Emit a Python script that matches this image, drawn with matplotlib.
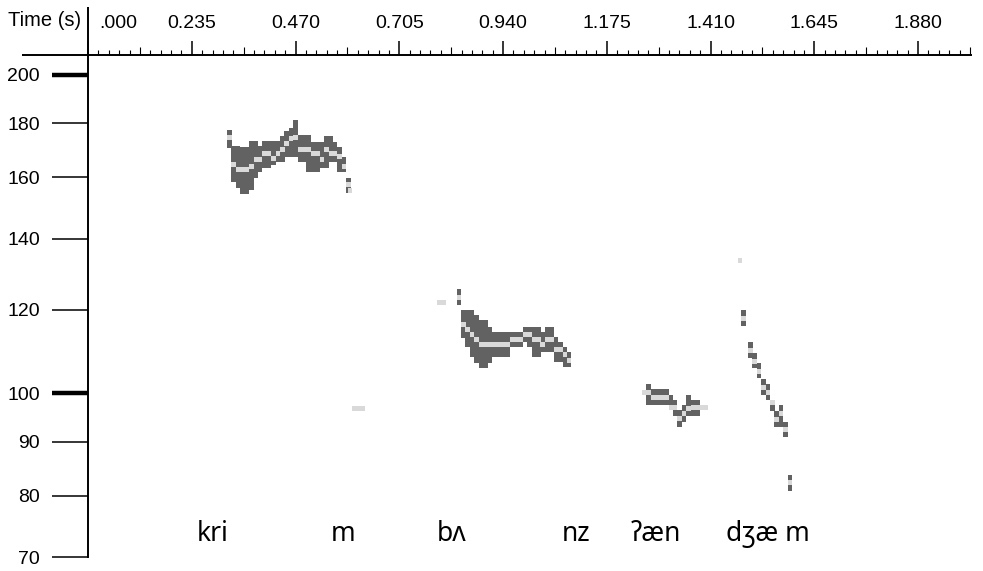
import numpy as np
import matplotlib
matplotlib.use('Agg')
import matplotlib.pyplot as plt
import matplotlib.transforms as mtransforms
from matplotlib.ticker import MultipleLocator, NullLocator, FuncFormatter

# pitch frames: time (s), f0 estimate (Hz) and the candidate band around it (Hz)
frame_t = [0.32, 0.33, 0.34, 0.35, 0.36, 0.37, 0.38, 0.39, 0.40, 0.41, 0.42, 0.43, 0.44, 0.45,
           0.46, 0.47, 0.48, 0.49, 0.50, 0.51, 0.52, 0.53, 0.54, 0.55, 0.56, 0.57, 0.58, 0.59,
           # bʌ nz
           0.84, 0.85, 0.86, 0.87, 0.88, 0.89, 0.90, 0.91, 0.92, 0.93, 0.94, 0.95, 0.96,
           0.97, 0.98, 0.99, 1.00, 1.01, 1.02, 1.03, 1.04, 1.05, 1.06, 1.07, 1.08, 1.09,
           # ʔæn
           1.27, 1.28, 1.29, 1.30, 1.31, 1.32, 1.33, 1.34, 1.35, 1.36, 1.37, 1.38,
           # dʒæ m
           1.485, 1.50, 1.51, 1.52, 1.53, 1.54, 1.55, 1.56, 1.57, 1.58, 1.59]
f0_hz = [174.4, 164.7, 162.9, 162.9, 162.9, 164.0, 166.5, 166.5, 168.4, 168.4, 166.9, 168.4, 170.2, 172.1,
         174.0, 174.7, 170.2, 170.2, 170.2, 168.4, 168.4, 166.5, 170.2, 168.4, 168.4, 167.6, 164.0, 157.4,
         123.3, 116.2, 115.0, 113.7, 112.5, 111.3, 111.3, 111.3, 111.3, 111.3, 111.3, 111.3, 112.5,
         112.5, 112.5, 113.7, 113.7, 112.5, 112.5, 111.3, 112.5, 112.5, 110.1, 110.1, 108.9, 107.5,
         100.2, 99.1, 99.1, 99.1, 99.1, 97.0, 97.0, 94.7, 95.7, 96.8, 97.0, 97.0,
         117.8, 109.8, 107.2, 104.9, 101.3, 100.2, 98.1, 94.5, 95.7, 92.5, 82.4]
band_lo = [170.6, 158.4, 156.3, 154.3, 154.3, 155.6, 159.8, 161.9, 163.3, 163.3, 164.4, 165.5, 165.5, 167.3,
           167.3, 167.3, 165.5, 165.5, 161.9, 161.9, 161.9, 163.3, 163.3, 165.5, 165.5, 161.9, 161.9, 154.6,
           121.1, 112.7, 110.5, 108.2, 106.8, 105.6, 105.6, 106.8, 108.2, 108.2, 108.2, 108.2, 110.5,
           110.5, 110.5, 111.8, 110.5, 108.2, 108.2, 109.3, 109.3, 109.3, 107.0, 107.0, 105.8, 105.8,
           97.4, 97.4, 97.4, 97.4, 97.4, 96.4, 95.1, 92.9, 93.9, 95.1, 95.1, 95.1,
           115.7, 107.9, 105.6, 103.3, 99.6, 98.5, 96.2, 92.9, 92.9, 90.9, 80.8]
band_hi = [177.4, 171.3, 171.3, 170.9, 170.9, 173.2, 173.2, 171.3, 173.2, 173.2, 173.2, 173.2, 175.1, 177.0,
           178.2, 181.3, 175.5, 175.5, 175.5, 172.8, 172.8, 172.8, 175.1, 175.1, 172.8, 170.9, 167.3, 159.8,
           125.4, 119.8, 119.8, 119.8, 118.5, 117.2, 117.2, 115.5, 114.2, 114.2, 114.2, 114.2, 114.2,
           114.2, 114.2, 115.5, 115.5, 115.5, 115.5, 114.2, 115.5, 115.5, 113.0, 111.8, 110.5, 109.3,
           102.0, 100.9, 100.9, 100.9, 100.9, 99.6, 98.5, 96.4, 97.4, 99.6, 98.5, 98.5,
           119.8, 111.8, 109.1, 106.8, 103.1, 102.0, 97.4, 96.2, 97.4, 93.9, 83.6]

# isolated f0 candidates without a band
stray_t = [0.593, 0.602, 0.612, 0.622, 0.795, 0.805, 1.26, 1.39, 1.40, 1.477]
stray_hz = [155.6, 96.8, 96.8, 96.8, 121.9, 121.9, 100.2, 97.0, 97.0, 133.6]

syllables = ['kri', 'm', 'bʌ', 'nz', 'ʔæn', 'dʒæ m']
syllable_t = [0.283, 0.578, 0.824, 1.105, 1.287, 1.540]

freq_ticks = [70, 80, 90, 100, 120, 140, 160, 180, 200]
time_step = 0.235

dark = '#626262'
light = '#d9d9d9'
cell_w = 0.0102
half_h = 1.0055

plt.rcParams['font.family'] = 'Liberation Sans'

fig = plt.figure(figsize=(9.83, 5.71), dpi=100)
ax = fig.add_axes([88 / 983, 14 / 571, 883 / 983, 502 / 571])

t = np.array(frame_t)
lo = np.array(band_lo)
hi = np.array(band_hi)
f0 = np.array(f0_hz)
s = np.array(stray_hz)
ax.bar(t, hi - lo, bottom=lo, width=cell_w, color=dark, linewidth=0)
ax.bar(t, f0 * half_h - f0 / half_h, bottom=f0 / half_h, width=cell_w, color=light, linewidth=0)
ax.bar(stray_t, s * half_h - s / half_h, bottom=s / half_h, width=cell_w, color=light, linewidth=0)

ax.set_yscale('log')
ax.set_ylim(70, 208.9)
ax.set_xlim(0, 2.0)

# frequency axis
ax.set_yticks(freq_ticks)
ax.set_yticklabels([str(v) for v in freq_ticks])
ax.yaxis.set_minor_locator(NullLocator())
ax.tick_params(axis='y', which='major', direction='out', length=26, width=1.1, pad=8.5, labelsize=14)
for loc, tick in zip(ax.yaxis.get_majorticklocs(), ax.yaxis.get_major_ticks()):
    if loc in (100, 200):
        tick.tick1line.set_markeredgewidth(3.2)

# time axis on top
ax.xaxis.tick_top()
ax.xaxis.set_major_locator(MultipleLocator(time_step))
ax.xaxis.set_minor_locator(MultipleLocator(time_step / 10))
ax.xaxis.set_major_formatter(FuncFormatter(lambda x, pos: '' if x < 1e-6 else '%.3f' % x))
ax.tick_params(axis='x', which='major', direction='out', length=10, width=1.1, pad=6.5, labelsize=14)
ax.tick_params(axis='x', which='minor', direction='out', length=3.6, width=0.8)
minor_locs = ax.xaxis.get_minorticklocs()
for loc, tick in zip(minor_locs, ax.xaxis.get_minor_ticks(len(minor_locs))):
    if round(loc / (time_step / 10)) % 5 == 0:
        tick.tick2line.set_markersize(5.8)

ax.annotate('.000', xy=(0, 1), xycoords='axes fraction', xytext=(30, 22.9),
            textcoords='offset pixels', ha='center', va='bottom', fontsize=14)
fig.text(8 / 983, 1 - 20 / 571, 'Time (s)', fontsize=14.5, ha='left', va='center')

for side in ['right', 'bottom']:
    ax.spines[side].set_visible(False)
for side in ['top', 'left']:
    ax.spines[side].set_linewidth(1.4)
ax.plot([-66 / 883, 0], [1, 1], transform=ax.transAxes, color='k', lw=1.4,
        clip_on=False, solid_capstyle='butt')
ax.plot([0, 0], [1, 1 + 48 / 502], transform=ax.transAxes, color='k', lw=1.4,
        clip_on=False, solid_capstyle='butt')

trans = mtransforms.blended_transform_factory(ax.transData, ax.transAxes)
for name, ts in zip(syllables, syllable_t):
    ax.text(ts, 0.046, name, transform=trans, ha='center', va='center', fontsize=19,
            family=['Noto Sans', 'DejaVu Sans'])

fig.savefig('out.png', dpi=100)
